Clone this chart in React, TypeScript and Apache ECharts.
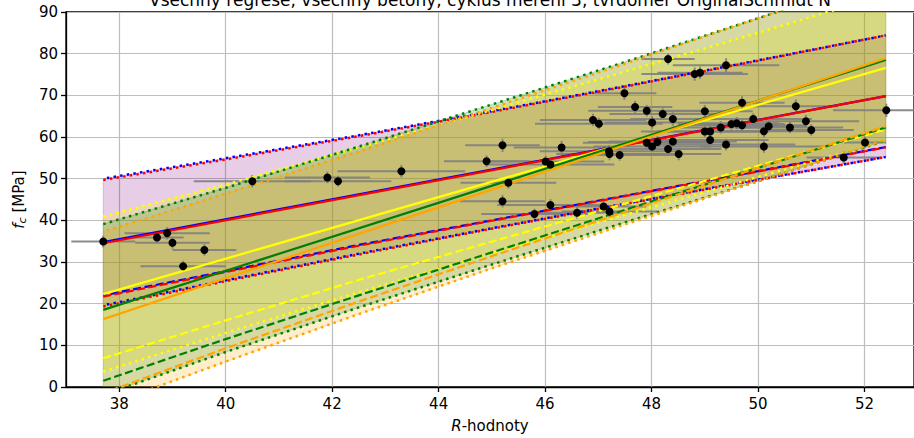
import React, { useEffect, useRef } from 'react';
import * as echarts from 'echarts';

const titleText = 'Všechny regrese, všechny betony, cyklus měření 3, tvrdoměr OriginalSchmidt N';
const xTicks = [38, 40, 42, 44, 46, 48, 50, 52];

// measured points (R-value, f_c) and their error half-widths
const measR = [37.70, 38.71, 38.90, 39.00, 39.20, 39.60, 40.50, 41.91, 42.11, 43.30, 44.90, 45.20, 45.31, 45.20, 45.80, 46.01, 46.10, 46.10, 46.31, 46.60, 46.90, 47.01, 47.10, 47.20, 47.21, 47.21, 47.40, 47.49, 47.69, 47.91, 48.01, 48.21, 48.40, 47.91, 48.01, 48.11, 48.31, 48.40, 48.51, 48.31, 48.81, 48.91, 49.40, 49.00, 49.00, 49.10, 49.10, 49.30, 49.40, 49.50, 49.60, 49.70, 49.70, 49.91, 50.11, 50.20, 50.60, 50.71, 50.90, 51.00, 50.11, 51.61, 52.01, 52.41];
const measFc = [34.9, 35.9, 36.9, 34.6, 29.0, 32.9, 49.4, 50.3, 49.4, 51.8, 54.2, 58.0, 49.0, 44.6, 41.5, 54.1, 53.4, 43.7, 57.5, 41.8, 64.1, 63.2, 43.3, 56.6, 55.9, 42.1, 55.7, 70.5, 67.2, 66.3, 63.5, 65.5, 64.3, 58.6, 57.7, 58.8, 57.1, 58.9, 55.9, 78.7, 75.1, 75.4, 77.2, 66.2, 61.3, 61.3, 59.3, 62.3, 58.2, 63.1, 63.3, 62.8, 68.2, 64.3, 61.4, 62.6, 62.3, 67.4, 63.8, 61.7, 57.7, 55.1, 58.7, 66.4];
const measRErr = [0.6, 0.5, 0.8, 0.7, 0.8, 0.6, 1.1, 0.8, 1.0, 1.2, 0.8, 0.7, 0.9, 0.8, 1.0, 1.1, 1.2, 1.0, 0.9, 0.9, 1.0, 1.2, 0.8, 1.3, 1.0, 0.9, 1.1, 0.6, 0.7, 1.1, 0.9, 1.0, 0.8, 1.2, 1.1, 1.3, 1.0, 1.2, 0.8, 0.5, 1.0, 0.8, 1.0, 0.9, 1.2, 1.0, 1.1, 0.9, 1.3, 1.0, 0.8, 1.2, 0.8, 1.1, 0.9, 0.7, 1.0, 0.8, 1.0, 0.8, 1.2, 0.7, 0.4, 1.0];
const measFcErr = [1.4, 1.3, 1.5, 1.4, 1.3, 1.4, 1.5, 1.4, 1.3, 1.5, 1.4, 1.6, 1.4, 1.5, 1.3, 1.4, 1.5, 1.4, 1.6, 1.4, 1.5, 1.4, 1.3, 1.4, 1.5, 1.4, 1.4, 1.6, 1.5, 1.4, 1.5, 1.4, 1.6, 1.4, 1.3, 1.4, 1.5, 1.4, 1.5, 1.3, 1.6, 1.5, 1.7, 1.5, 1.4, 1.4, 1.3, 1.5, 1.4, 1.4, 1.5, 1.4, 1.6, 1.4, 1.5, 1.4, 1.4, 1.6, 1.5, 1.4, 1.5, 1.5, 1.4, 1.6];

// regression lines (fit lines: endpoints; bands: read at bandX)
const fitX = [37.7, 52.4];
const bandX = [37.7, 40, 42.5, 45, 47.5, 50, 52.4];

const blueFit = [34.8, 69.8];
const blueDash = [22.0, 27.8, 34.1, 40.0, 45.9, 51.8, 57.6];
const blueUpper = [50.0, 54.9, 60.4, 66.2, 72.2, 78.4, 84.4];
const blueLower = [19.6, 25.6, 32.0, 38.1, 44.0, 49.8, 55.2];

const redFit = [34.5, 69.8];
const redDash = [21.7, 27.6, 33.9, 39.9, 45.8, 51.7, 57.5];
const redUpper = [49.7, 54.6, 60.2, 66.0, 72.1, 78.3, 84.4];
const redLower = [19.3, 25.4, 31.8, 38.0, 43.9, 49.7, 55.2];

const yellowFit = [22.3, 76.6];
const yellowDash = [6.9, 16.0, 25.7, 34.9, 44.0, 53.1, 61.8];
const yellowUpper = [40.9, 48.6, 57.5, 66.5, 75.7, 85.0, 94.2];
const yellowLower = [3.7, 13.0, 22.7, 32.1, 41.3, 50.4, 59.0];

const greenFit = [18.5, 78.5];
const greenDash = [1.5, 11.5, 22.0, 32.3, 42.5, 52.6, 62.3];
const greenUpper = [39.1, 47.8, 57.7, 67.8, 78.0, 88.5, 98.8];
const greenLower = [-1.9, 8.4, 19.1, 29.4, 39.5, 49.4, 59.1];

const orangeFit = [16.3, 78.9];
const orangeDash = [-1.5, 9.3, 20.5, 31.4, 42.0, 52.6, 62.6];
const orangeUpper = [37.3, 46.4, 56.5, 67.0, 77.6, 88.5, 99.1];
const orangeLower = [-4.7, 6.1, 17.5, 28.5, 39.0, 49.4, 59.3];

const FONT = '"DejaVu Sans", sans-serif';

function bandSeries(name: string, lower: number[], upper: number[], fill: string) {
  return {
    type: 'custom',
    name,
    silent: true,
    clip: true,
    z: 1,
    encode: { x: 0, y: [1, 2] },
    data: bandX.map((x, i) => [x, lower[i], upper[i]]),
    renderItem: (params: any, api: any) => {
      if (params.dataIndex !== 0) return null;
      const pts: number[][] = [];
      for (let i = 0; i < bandX.length; i++) pts.push(api.coord([bandX[i], upper[i]]));
      for (let i = bandX.length - 1; i >= 0; i--) pts.push(api.coord([bandX[i], lower[i]]));
      return {
        type: 'polygon',
        shape: { points: pts },
        style: { fill, stroke: fill, lineWidth: 1 },
      };
    },
  };
}

function lineSeries(name: string, xs: number[], ys: number[], color: string, kind: string, offset = 0, z = 3) {
  let type: any = 'solid';
  let width = 2.2;
  if (kind === 'dash') type = [8, 3.5];
  if (kind === 'dot') { type = [2.5, 4.2]; width = 2.5; }
  return {
    type: 'line',
    name,
    silent: true,
    clip: true,
    z,
    symbol: 'none',
    showSymbol: false,
    data: xs.map((x, i) => [x, ys[i]]),
    lineStyle: { color, width, type, dashOffset: offset, cap: 'butt', opacity: 1 },
  };
}

export default function App() {
  const ref = useRef<HTMLDivElement>(null);
  useEffect(() => {
    if (!ref.current) return;
    const chart = echarts.init(ref.current, undefined, { renderer: 'svg' });
    const models = [
      { n: 'blue', c: '#0000ff', fit: blueFit, dash: blueDash, up: blueUpper, lo: blueLower, off: 3.35 },
      { n: 'red', c: '#ff0000', fit: redFit, dash: redDash, up: redUpper, lo: redLower, off: 0 },
      { n: 'yellow', c: '#ffff00', fit: yellowFit, dash: yellowDash, up: yellowUpper, lo: yellowLower, off: 0 },
      { n: 'green', c: '#008000', fit: greenFit, dash: greenDash, up: greenUpper, lo: greenLower, off: 0 },
      { n: 'orange', c: '#ffa500', fit: orangeFit, dash: orangeDash, up: orangeUpper, lo: orangeLower, off: 3.35 },
    ];
    const fills: Record<string, string> = {
      blue: 'rgba(0,0,255,0.1)',
      red: 'rgba(255,0,0,0.1)',
      yellow: 'rgba(255,255,0,0.2)',
      green: 'rgba(0,128,0,0.2)',
      orange: 'rgba(255,165,0,0.2)',
    };
    const series: any[] = [];
    models.forEach((m) => series.push(bandSeries(m.n + ' band', m.lo, m.up, fills[m.n])));
    series.push({
      type: 'custom',
      name: 'error bars',
      silent: true,
      clip: true,
      z: 2,
      encode: { x: 0, y: 1 },
      data: measR.map((r, i) => [r, measFc[i], measRErr[i], measFcErr[i]]),
      renderItem: (params: any, api: any) => {
        const x = api.value(0), y = api.value(1), ex = api.value(2), ey = api.value(3);
        const l = api.coord([x - ex, y]);
        const r = api.coord([x + ex, y]);
        const t = api.coord([x, y + ey]);
        const b = api.coord([x, y - ey]);
        const st = { stroke: 'rgba(128,128,128,0.9)', lineWidth: 2 };
        return {
          type: 'group',
          children: [
            { type: 'line', shape: { x1: l[0], y1: l[1], x2: r[0], y2: r[1] }, style: st },
            { type: 'line', shape: { x1: t[0], y1: t[1], x2: b[0], y2: b[1] }, style: st },
          ],
        };
      },
    });
    models.forEach((m) => {
      series.push(lineSeries(m.n + ' fit', fitX, m.fit, m.c, 'solid'));
      series.push(lineSeries(m.n + ' dash', bandX, m.dash, m.c, 'dash', m.off ? 4 : 0));
      series.push(lineSeries(m.n + ' upper', bandX, m.up, m.c, 'dot', m.off));
      series.push(lineSeries(m.n + ' lower', bandX, m.lo, m.c, 'dot', m.off));
    });
    series.push({
      type: 'scatter',
      name: 'měření',
      silent: true,
      z: 5,
      symbol: 'circle',
      symbolSize: 8,
      itemStyle: { color: '#000000', opacity: 1 },
      data: measR.map((r, i) => [r, measFc[i]]),
    });

    chart.setOption({
      animation: false,
      backgroundColor: '#ffffff',
      textStyle: { fontFamily: FONT },
      grid: { left: 66, right: -3, top: 12, bottom: 51, show: true, borderColor: '#000', borderWidth: 1.3, backgroundColor: 'transparent' },
      xAxis: {
        type: 'value',
        min: 37,
        max: 52.93,
        name: '{i|R}-hodnoty',
        nameLocation: 'middle',
        nameGap: 31,
        nameTextStyle: {
          fontFamily: FONT, fontSize: 15, color: '#000',
          rich: { i: { fontFamily: FONT, fontStyle: 'italic', fontSize: 15, color: '#000' } },
        },
        axisLine: { show: true, lineStyle: { color: '#000', width: 1.3 } },
        axisTick: { show: true, length: 5, lineStyle: { color: '#000', width: 1.3 }, customValues: xTicks },
        axisLabel: { fontFamily: FONT, fontSize: 15, color: '#000', margin: 9, customValues: xTicks },
        splitLine: { show: true, lineStyle: { color: '#bdbdbd', width: 1.2 } },
      },
      yAxis: {
        type: 'value',
        min: 0,
        max: 90,
        interval: 10,
        name: '{i|f}{s|c} [MPa]',
        nameLocation: 'middle',
        nameRotate: 90,
        nameGap: 38,
        nameTextStyle: {
          fontFamily: FONT, fontSize: 15, color: '#000',
          rich: {
            i: { fontFamily: FONT, fontStyle: 'italic', fontSize: 15, color: '#000' },
            s: { fontFamily: FONT, fontStyle: 'italic', fontSize: 11, color: '#000', padding: [7, 0, 0, 0] },
          },
        },
        axisLine: { show: true, lineStyle: { color: '#000', width: 1.3 } },
        axisTick: { show: true, length: 5, lineStyle: { color: '#000', width: 1.3 } },
        axisLabel: { fontFamily: FONT, fontSize: 15, color: '#000', margin: 8 },
        splitLine: { show: true, lineStyle: { color: '#bdbdbd', width: 1.2 } },
      },
      graphic: [
        {
          type: 'text',
          x: 490,
          y: 8,
          silent: true,
          style: { text: titleText, font: '17px "DejaVu Sans", sans-serif', fill: '#000', textAlign: 'center', textVerticalAlign: 'bottom' },
        },
      ],
      series,
    });
    return () => chart.dispose();
  }, []);
  return <div ref={ref} style={{ position: 'absolute', left: 0, top: 0, width: 914, height: 438 }} />;
}
